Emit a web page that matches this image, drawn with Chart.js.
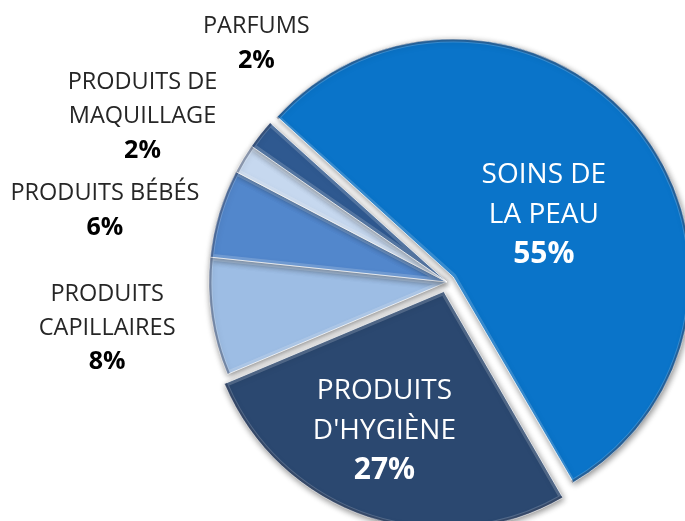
<!DOCTYPE html>
<html>
<head>
<meta charset="utf-8">
<script src="https://cdn.jsdelivr.net/npm/chart.js@4.4.1/dist/chart.umd.min.js"></script>
<style>
  html, body { margin: 0; padding: 0; background: #fff; }
  #wrap { width: 685px; height: 521px; position: relative; }
</style>
</head>
<body>
<div id="wrap"><canvas id="pieChart"></canvas></div>
<script>
const categories = [
  ["SOINS DE", "LA PEAU"],
  ["PRODUITS", "D'HYGIÈNE"],
  ["PRODUITS", "CAPILLAIRES"],
  ["PRODUITS BÉBÉS"],
  ["PRODUITS DE", "MAQUILLAGE"],
  ["PARFUMS"],
];
const shares = [55, 27, 8, 6, 2, 2];
const sliceColors = ["#0a74c9", "#2b4870", "#9dbde4", "#5287cc", "#c6d8ef", "#2f5990"];
const explode = [32, 40, 0, 0, 0, 0];

// label placement: fraction of radius along the slice middle + small angle nudge (deg)
const labelPlace = [
  { k: 0.5, da: 3.5, inside: true },
  { k: 0.67, da: 4.5, inside: true },
  { k: 1.44, da: 1.0, inside: false },
  { k: 1.47, da: -4.7, inside: false },
  { k: 1.46, da: -2.4, inside: false },
  { k: 1.29, da: 13.2, inside: false },
];

const FONT = "'Open Sans', 'Noto Sans', sans-serif";

function arcGeom(el) {
  const p = el.getProps(["x", "y", "startAngle", "endAngle", "outerRadius", "circumference"], true);
  const off = (el.options.offset || 0) / 4;
  const half = (p.startAngle + p.endAngle) / 2;
  const fix = 1 - Math.sin(Math.min(Math.PI, p.circumference || 0));
  return {
    x: p.x + Math.cos(half) * off,
    y: p.y + Math.sin(half) * off,
    r: p.outerRadius + off * fix,
    s: p.startAngle,
    e: p.endAngle,
    half: half,
    cx: p.x,
    cy: p.y,
  };
}

// keep exploded big slices at the same radius as the rest
const keepRadius = {
  id: "keepRadius",
  afterDatasetUpdate(chart, args) {
    const meta = chart.getDatasetMeta(args.index);
    meta.data.forEach((el) => {
      const off = (el.options.offset || 0) / 4;
      const fix = 1 - Math.sin(Math.min(Math.PI, el.circumference || 0));
      el.outerRadius = el.outerRadius - off * fix;
    });
  },
};

const shadowPlugin = {
  id: "shadowPlugin",
  beforeDatasetsDraw(chart) {
    const ctx = chart.ctx;
    ctx.save();
    ctx.shadowColor = "rgba(0,0,0,0.45)";
    ctx.shadowBlur = 6;
    ctx.shadowOffsetX = 1;
    ctx.shadowOffsetY = 2;
  },
  afterDatasetsDraw(chart) {
    const ctx = chart.ctx;
    ctx.restore();
    // bevel look on each slice
    chart.getDatasetMeta(0).data.forEach((el) => {
      const g = arcGeom(el);
      ctx.save();
      ctx.beginPath();
      ctx.moveTo(g.x, g.y);
      ctx.arc(g.x, g.y, g.r, g.s, g.e);
      ctx.closePath();
      ctx.clip();
      ctx.lineJoin = "round";
      ctx.lineWidth = 7;
      ctx.strokeStyle = "rgba(255,255,255,0.18)";
      ctx.stroke();
      ctx.beginPath();
      ctx.arc(g.x, g.y, g.r, g.s, g.e);
      ctx.lineWidth = 5;
      ctx.strokeStyle = "rgba(0,10,40,0.32)";
      ctx.stroke();
      ctx.restore();
    });
  },
};

const labelPlugin = {
  id: "labelPlugin",
  afterDraw(chart) {
    const ctx = chart.ctx;
    const base = chart.getDatasetMeta(0).controller.outerRadius;
    chart.getDatasetMeta(0).data.forEach((el, i) => {
      const g = arcGeom(el);
      const pl = labelPlace[i];
      const ang = g.half + (pl.da * Math.PI) / 180;
      const px = g.cx + Math.cos(ang) * base * pl.k;
      const py = g.cy + Math.sin(ang) * base * pl.k + 2;
      const lines = categories[i].concat([shares[i] + "%"]);
      const lh = pl.inside ? 40 : 34;
      const y0 = py - ((lines.length - 1) * lh) / 2;
      ctx.save();
      ctx.textAlign = "center";
      ctx.textBaseline = "middle";
      lines.forEach((t, j) => {
        const last = j === lines.length - 1;
        if (pl.inside) {
          ctx.fillStyle = "#ffffff";
          ctx.font = (last ? "bold 30px " : "28px ") + FONT;
        } else {
          ctx.fillStyle = last ? "#000000" : "#262626";
          ctx.font = (last ? "bold 25px " : "23.5px ") + FONT;
        }
        ctx.fillText(t, px, y0 + j * lh);
      });
      ctx.restore();
    });
  },
};

new Chart(document.getElementById("pieChart"), {
  type: "pie",
  data: {
    labels: categories.map((c) => c.join(" ")),
    datasets: [
      {
        data: shares,
        backgroundColor: sliceColors,
        borderColor: "rgba(255,255,255,0.75)",
        borderWidth: 1,
        offset: explode,
      },
    ],
  },
  options: {
    responsive: true,
    maintainAspectRatio: false,
    animation: false,
    rotation: -48,
    radius: 238,
    layout: { padding: { left: 209, right: 0, top: 43, bottom: 0 } },
    plugins: {
      legend: { display: false },
      tooltip: { enabled: false },
    },
  },
  plugins: [keepRadius, shadowPlugin, labelPlugin],
});
</script>
</body>
</html>
